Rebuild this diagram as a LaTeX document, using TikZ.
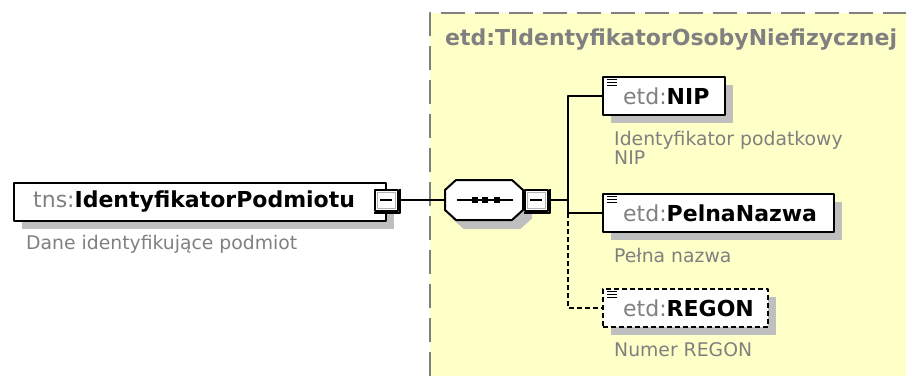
\documentclass[tikz,border=0pt]{standalone}
\usepackage{fontspec}
\setmainfont{DejaVu Sans}
\usetikzlibrary{positioning,shadows}
\definecolor{note}{RGB}{255,255,200}
\definecolor{txtgray}{RGB}{128,128,128}
\begin{document}
\begin{tikzpicture}[x=1pt, y=-1pt, line join=round,
	box/.style={draw, line width=2pt, fill=white, minimum height=38pt, inner sep=0pt, anchor=north west,
		drop shadow={shadow xshift=8pt, shadow yshift=-8pt, fill=gray!50, opacity=1}},
	lbl/.style={anchor=west, inner sep=0pt, font=\fontsize{22}{26}\selectfont},
	desc/.style={anchor=west, inner sep=0pt, text=txtgray, align=left, font=\fontsize{18.8}{19}\selectfont},
	minus/.style={draw, line width=2pt, fill=white, minimum width=23pt, minimum height=21pt, inner sep=0pt,
		path picture={\draw[gray!60, line width=1pt]([shift={(2.5pt,-2.5pt)}]path picture bounding box.north west) rectangle ([shift={(-2.5pt,2.5pt)}]path picture bounding box.south east);
			\draw[line width=1.2pt]([xshift=-6pt]path picture bounding box.center)--([xshift=6pt]path picture bounding box.center);}}]
	\useasboundingbox (0,0) rectangle (906,376);
	% complex type area
	\fill[note] (430,13) rectangle (906,376);
	\draw[gray, line width=1.5pt, dash pattern=on 24pt off 10pt] (430,376)--(430,13)--(906,13);
	\node[anchor=west, inner sep=0pt, text=txtgray, font=\fontsize{22}{26}\selectfont\bfseries] (type) at (445,40) {etd:TIdentyfikatorOsobyNiefizycznej};
	% root element
	\node[box, minimum width=372pt] (main) at (13,182) {};
	\node[lbl] (mainlbl) at ([xshift=20pt]main.west) {{\color{txtgray}tns:}\textbf{IdentyfikatorPodmiotu}};
	\node[desc] (maindesc) at (26,244) {Dane identyfikujące podmiot};
	% sequence
	\foreach \o/\c/\d in {8/gray!50/gray!50, 0/white/black}
		\path[fill=\c, draw=\d, line width=2pt, shift={(\o,\o)}] (456,180)--(512,180)--(523,190)--(523,210)--(512,220)--(456,220)--(445,210)--(445,190)--cycle;
	\node[minimum width=78pt, minimum height=40pt, inner sep=0pt] (seq) at (484,200) {};
	\draw[line width=1.6pt]([xshift=-27pt]seq.center)--([xshift=29pt]seq.center);
	\foreach \d in {-9,1,13}\fill ([xshift=\d pt]seq.center) +(-3,-3) rectangle +(3,3);
	% minus buttons
	\node[minus] (mainmin) at (386,200) {};
	\node[minus] (seqmin) at (536,200) {};
	\foreach \m in {mainmin,seqmin}\draw[line width=2pt]([xshift=1.5pt]\m.north east)--([shift={(1.5pt,-1.5pt)}]\m.south east)--([yshift=-1.5pt]\m.south west);
	\coordinate (fork) at (568,200);
	% children
	\node[box, minimum width=122pt] (nip) at (602,76) {};
	\node[box, minimum width=231pt] (pelna) at (602,193) {};
	\node[box, minimum width=165pt, dash pattern=on 5pt off 3pt] (regon) at (602,288) {};
	\node[lbl] (niplbl) at ([xshift=21pt]nip.west) {{\color{txtgray}etd:}\textbf{NIP}};
	\node[lbl] (pelnalbl) at ([xshift=21pt]pelna.west) {{\color{txtgray}etd:}\textbf{PelnaNazwa}};
	\node[lbl] (regonlbl) at ([xshift=21pt]regon.west) {{\color{txtgray}etd:}\textbf{REGON}};
	\foreach \n in {nip,pelna,regon}\foreach \k in {3.5,6.5,9.5}\draw[line width=1pt]([xshift=5pt,yshift=-\k pt]\n.north west)--++(10,0);
	\node[desc] (nipdesc) at (614,148) {Identyfikator podatkowy\\NIP};
	\node[desc] (pelnadesc) at (614,255) {Pełna nazwa};
	\node[desc] (regondesc) at (614,350) {Numer REGON};
	% connectors
	\draw[line width=2pt] (mainmin) -- (seq);
	\draw[line width=2pt] (seqmin.east) -- (fork) |- (nip.west);
	\draw[line width=2pt] (fork) |- (pelna.west);
	\draw[line width=2pt, dash pattern=on 5pt off 3pt] (fork |- pelna.west) |- (regon.west);
\end{tikzpicture}
\end{document}
